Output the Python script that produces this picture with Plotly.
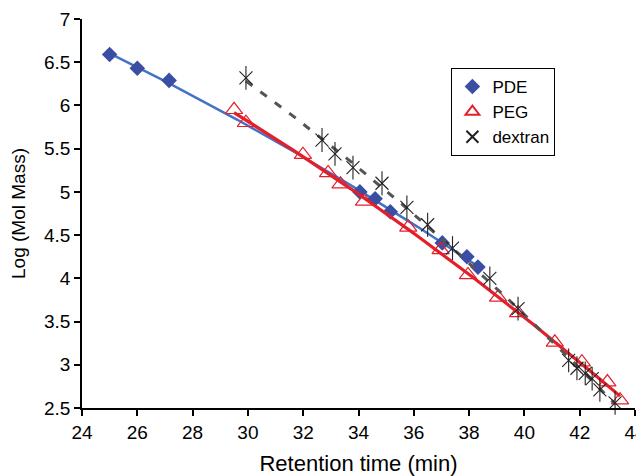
import numpy as np
import plotly.graph_objects as go

# Data
pde_x = [25.0, 26.0, 27.15, 34.05, 34.6, 35.15, 37.03, 37.92, 38.32]
pde_y = [6.59, 6.43, 6.29, 5.00, 4.92, 4.77, 4.41, 4.25, 4.13]

peg_x = [29.5, 29.93, 31.99, 32.9, 33.35, 34.2, 35.8, 36.97, 37.96, 39.05, 39.77, 41.1, 42.08, 43.0, 43.46]
peg_y = [5.95, 5.80, 5.43, 5.22, 5.09, 4.89, 4.59, 4.33, 4.04, 3.78, 3.60, 3.26, 3.03, 2.80, 2.59]

dex_x = [29.93, 32.68, 33.15, 33.8, 34.85, 35.75, 36.5, 37.4, 38.75, 39.77, 41.6, 41.9, 42.2, 42.45, 42.73, 43.28]
dex_y = [6.32, 5.60, 5.44, 5.28, 5.10, 4.82, 4.62, 4.35, 4.00, 3.65, 3.05, 2.96, 2.90, 2.84, 2.71, 2.56]

x_ticks = [24, 26, 28, 30, 32, 34, 36, 38, 40, 42, 44]
y_ticks = [2.5, 3, 3.5, 4, 4.5, 5, 5.5, 6, 6.5, 7]


def trend(xs, ys, deg=2, n=120):
    c = np.polyfit(xs, ys, deg)
    xx = np.linspace(min(xs), max(xs), n)
    return xx, np.polyval(c, xx)


BLUE_M = "#3A4FA3"
BLUE_L = "#4472C4"
RED = "#E3202A"
GREY = "#555555"

fig = go.Figure()

bx, by = trend(pde_x, pde_y)
fig.add_trace(go.Scatter(x=bx, y=by, mode="lines", line=dict(color=BLUE_L, width=2.5),
                         showlegend=False, hoverinfo="skip"))
fig.add_trace(go.Scatter(x=pde_x, y=pde_y, mode="markers", name="PDE",
                         marker=dict(symbol="diamond", size=12, color=BLUE_M,
                                     line=dict(width=0)), cliponaxis=False))

rx, ry = trend(peg_x, peg_y)
fig.add_trace(go.Scatter(x=rx, y=ry, mode="lines", line=dict(color=RED, width=3.2),
                         showlegend=False, hoverinfo="skip"))
fig.add_trace(go.Scatter(x=peg_x, y=peg_y, mode="markers", name="PEG",
                         marker=dict(symbol="triangle-up-open", size=15, color=RED,
                                     line=dict(width=1.2, color=RED)), cliponaxis=False))

dx, dy = trend(dex_x, dex_y)
fig.add_trace(go.Scatter(x=dx, y=dy, mode="lines",
                         line=dict(color=GREY, width=3, dash="8px,10px"),
                         showlegend=False, hoverinfo="skip"))
fig.add_trace(go.Scatter(x=dex_x, y=dex_y, mode="markers", name="dextran",
                         marker=dict(symbol="x-thin-open", size=13, color="#222222",
                                     line=dict(width=1.1, color="#222222")),
                         cliponaxis=False))
fig.add_trace(go.Scatter(x=dex_x, y=dex_y, mode="markers", showlegend=False,
                         marker=dict(symbol="line-ns-open", size=17, color="#222222",
                                     line=dict(width=1.1, color="#222222")),
                         cliponaxis=False, hoverinfo="skip"))

# the page body adds an 8px margin, so the figure is 8px smaller on each axis
fig.update_layout(
    width=636, height=468,
    margin=dict(l=74, r=9, t=11, b=68),
    paper_bgcolor="white", plot_bgcolor="white",
    font=dict(family="Liberation Sans, Arial, sans-serif", size=19, color="black"),
    showlegend=True,
    legend=dict(x=0.668, y=0.874, xanchor="left", yanchor="top",
                bordercolor="black", borderwidth=1, bgcolor="white",
                font=dict(size=17), itemsizing="constant", tracegroupgap=0,
                itemwidth=30),
    xaxis=dict(range=[24, 44], tickvals=x_ticks, ticktext=[str(v) for v in x_ticks],
               showline=True, linecolor="black", linewidth=1.5, ticks="outside",
               ticklen=6, tickwidth=1.5, tickcolor="black", showgrid=False, zeroline=False,
               automargin=False, ticklabeloverflow="allow",
               title=dict(text="Retention time (min)", font=dict(size=22), standoff=18),
               tickfont=dict(size=19)),
    yaxis=dict(range=[2.5, 7], tickvals=y_ticks, ticktext=[str(v) for v in y_ticks],
               showline=True, linecolor="black", linewidth=1.5, ticks="outside",
               ticklen=6, tickwidth=1.5, tickcolor="black", showgrid=False, zeroline=False,
               automargin=False, ticklabeloverflow="allow",
               title=dict(text="Log (Mol Mass)", font=dict(size=19), standoff=22),
               tickfont=dict(size=19)),
)

fig.write_html("out.html")
